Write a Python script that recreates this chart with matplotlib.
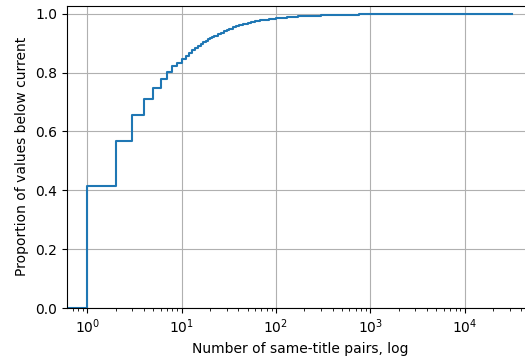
import numpy as np
import matplotlib
matplotlib.use("Agg")
import matplotlib.pyplot as plt

# Distinct numbers of same-title pairs and cumulative proportion (ECDF)
pair_counts = [1, 2, 3, 4, 5, 6, 7, 8, 9, 10, 11, 12, 13, 14, 15, 16, 17, 18,
               19, 20, 21, 22, 24, 26, 28, 30, 32, 35, 38, 41, 45, 50, 55, 60,
               67, 75, 85, 100, 130, 170, 230, 300, 400, 550, 750, 1000, 1500,
               3000, 32000]
proportion = [0.415, 0.569, 0.655, 0.710, 0.748, 0.777, 0.802, 0.821, 0.834,
              0.847, 0.858, 0.868, 0.877, 0.885, 0.892, 0.898, 0.903, 0.908,
              0.913, 0.917, 0.921, 0.924, 0.930, 0.936, 0.941, 0.945, 0.949,
              0.954, 0.958, 0.962, 0.965, 0.969, 0.972, 0.975, 0.978, 0.980,
              0.983, 0.985, 0.988, 0.991, 0.993, 0.995, 0.996, 0.997, 0.998,
              0.9985, 0.999, 0.9995, 1.0]
y_ticks = [0.0, 0.2, 0.4, 0.6, 0.8, 1.0]

fig = plt.figure(figsize=(5.25, 3.61), dpi=100)
ax = fig.add_axes([66.7 / 525, 53 / 361, (534 - 66.7) / 525, (308 - 5.5) / 361])

ax.set_xscale("log")
ax.set_xlim(0.605, 54300)
ax.set_ylim(0, 1.028)

x0 = ax.get_xlim()[0]
xs = np.r_[x0, pair_counts]
ys = np.r_[0.0, proportion]
ax.plot(xs, ys, drawstyle="steps-post", color="#1f77b4", linewidth=1.5)

ax.set_yticks(y_ticks)
ax.grid(True, which="major")
ax.set_xlabel("Number of same-title pairs, log")
ax.set_ylabel("Proportion of values below current")

fig.savefig("out.png", dpi=100)
